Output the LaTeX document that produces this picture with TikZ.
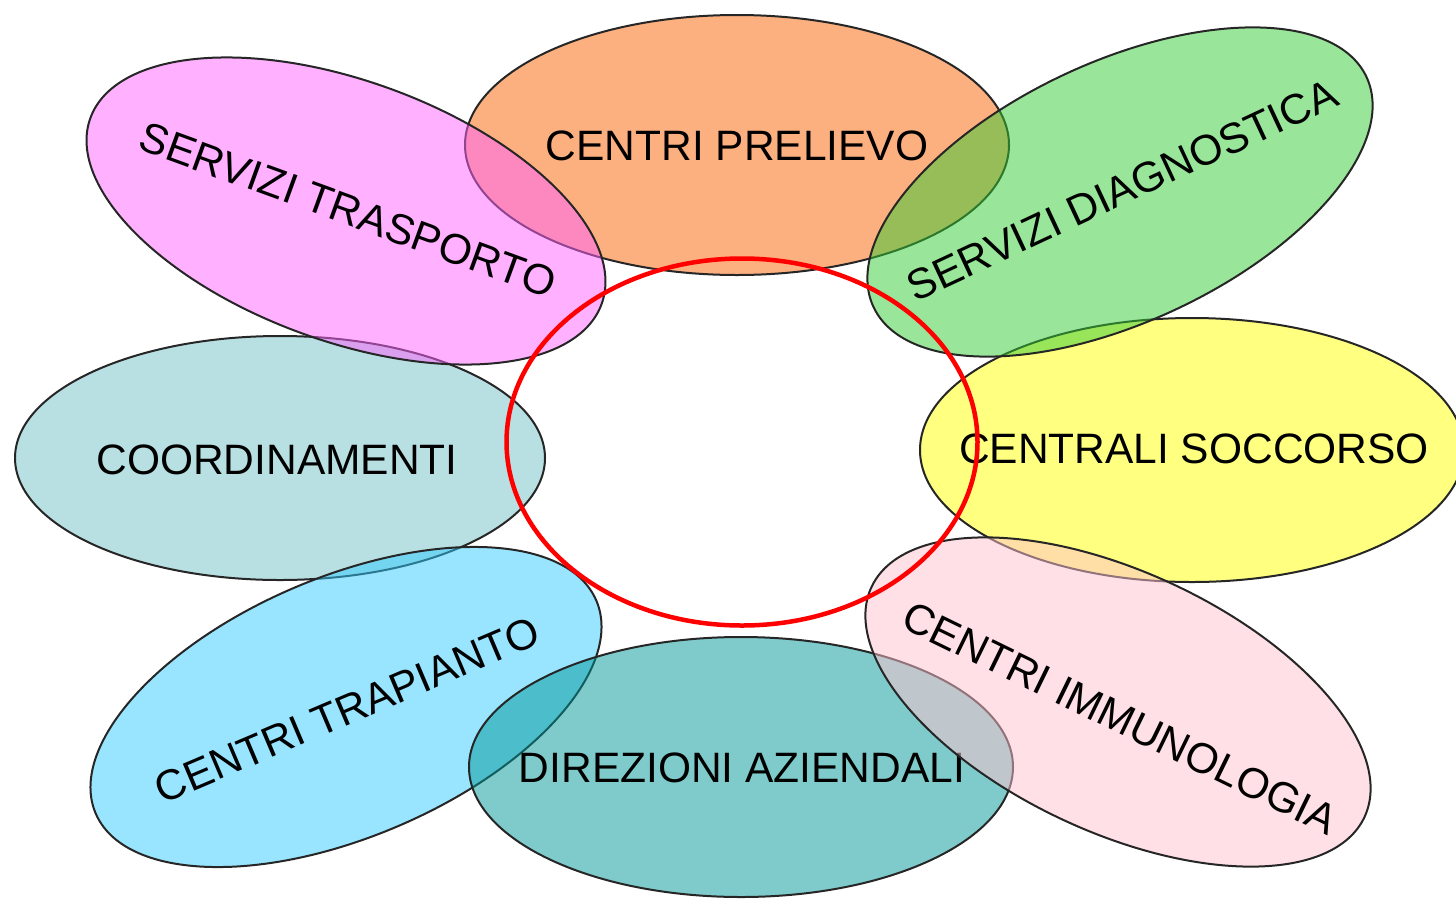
\documentclass[tikz,border=0pt]{standalone}
\usepackage{fontspec}
\setmainfont{Liberation Sans}
\usetikzlibrary{shapes.geometric}
\definecolor{cOrange}{RGB}{249,97,0}
\definecolor{cCoord}{RGB}{113,191,197}
\definecolor{cYellow}{RGB}{255,255,1}
\definecolor{cPink}{RGB}{255,97,255}
\definecolor{cGreen}{RGB}{51,203,51}
\definecolor{cCyan}{RGB}{51,203,255}
\definecolor{cTeal}{RGB}{0,151,151}
\definecolor{cLPink}{RGB}{255,193,205}
\begin{document}
\begin{tikzpicture}[x=1pt,y=-1pt,
  petal/.style={ellipse, draw=black!85, line width=2pt, fill opacity=0.5, draw opacity=1,
    minimum width=544pt, minimum height=260pt, inner sep=0pt},
  lbl/.style={font=\fontsize{42.5}{50}\selectfont, text=black, inner sep=0pt},
  hubring/.style={ellipse, draw=red, line width=4.5pt, inner sep=0pt}]
\useasboundingbox (0,0) rectangle (1456,900);
\node[petal, fill=cOrange] (prelievo) at (737,145) {};
\node[lbl] (tprelievo) at (737,146) {CENTRI PRELIEVO};
\node[petal, fill=cCoord, minimum width=530pt, minimum height=244pt] (coord) at (280,458) {};
\node[lbl] (tcoord) at (277,460) {COORDINAMENTI};
\node[petal, fill=cYellow, minimum height=264pt] (soccorso) at (1192,450) {};
\node[lbl] (tsoccorso) at (1194,449) {CENTRALI SOCCORSO};
\node[petal, fill=cPink, rotate=-20] (trasporto) at (346,211) {};
\node[lbl, rotate=-20] (ttrasporto) at (348,210) {SERVIZI TRASPORTO};
\node[petal, fill=cGreen, rotate=25] (diagnostica) at (1120,192) {};
\node[lbl, rotate=25] (tdiagnostica) at (1122,190) {SERVIZI DIAGNOSTICA};
\node[petal, fill=cCyan, rotate=23] (trapianto) at (346,707) {};
\node[lbl, rotate=23] (ttrapianto) at (347,710) {CENTRI TRAPIANTO};
\node[petal, fill=cTeal] (direzioni) at (741,767) {};
\node[lbl] (tdirezioni) at (742,768) {DIREZIONI AZIENDALI};
\node[petal, fill=cLPink, rotate=-25] (immuno) at (1118,702) {};
\node[lbl, rotate=-26] (timmuno) at (1120,718) {CENTRI IMMUNOLOGIA};
\node[hubring, minimum width=471pt, minimum height=367pt] (hub) at (742,442) {};
\end{tikzpicture}
\end{document}
